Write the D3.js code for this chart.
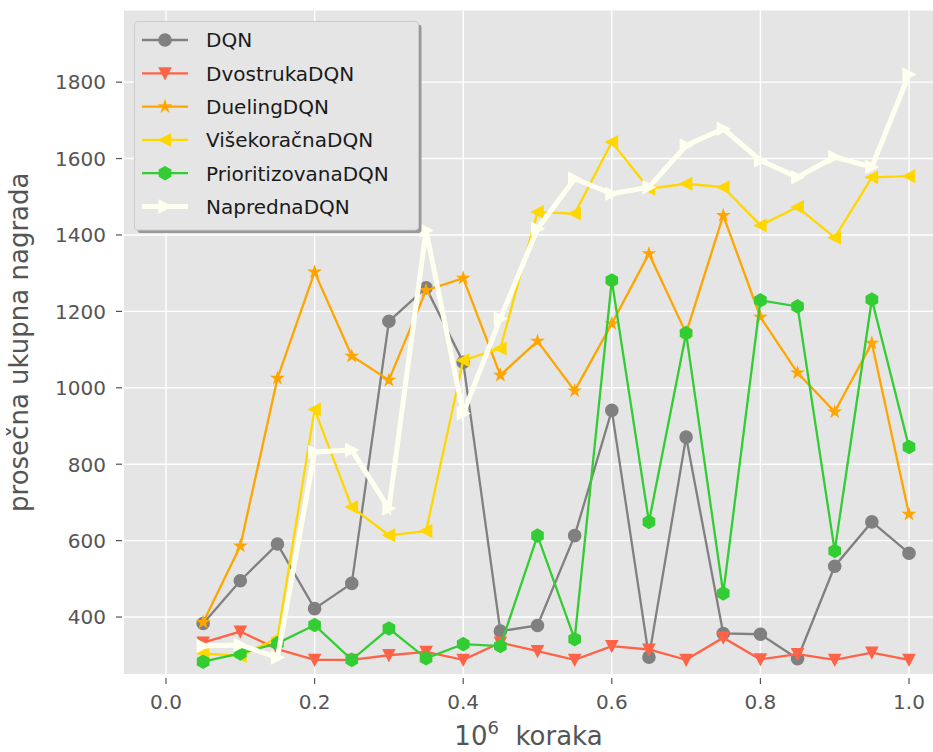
<!DOCTYPE html>
<html>
<head>
<meta charset="utf-8">
<script src="https://cdn.jsdelivr.net/npm/d3@7"></script>
<style>
  html, body { margin: 0; padding: 0; background: #fff; }
  svg { display: block; font-family: "DejaVu Sans", sans-serif; }
</style>
</head>
<body>
<svg id="chart" width="933" height="752"></svg>
<script>
const steps = [0.05,0.10,0.15,0.20,0.25,0.30,0.35,0.40,0.45,0.50,0.55,0.60,0.65,0.70,0.75,0.80,0.85,0.90,0.95,1.00];

const dqn          = [383,495,591,422,488,1174,1262,1067,363,378,613,941,295,871,357,355,291,533,649,567];
const dvostruka    = [333,362,316,288,288,300,309,288,333,311,288,324,315,288,346,289,303,288,307,288];
const dueling      = [386,586,1025,1303,1083,1020,1255,1287,1033,1122,992,1168,1351,1143,1451,1185,1039,937,1117,669];
const visekoracna  = [305,298,345,943,688,614,625,1072,1103,1460,1456,1643,1521,1534,1525,1425,1473,1393,1551,1554];
const prioritiz    = [283,305,331,379,288,370,292,329,324,613,342,1281,649,1143,462,1229,1213,573,1231,845];
const napredna     = [324,327,294,832,837,684,1412,933,1181,1416,1547,1508,1525,1634,1678,1595,1551,1604,1578,1820];

const seriesNames  = ["DQN","DvostrukaDQN","DuelingDQN","VišekoračnaDQN","PrioritizovanaDQN","NaprednaDQN"];
const seriesValues = [dqn, dvostruka, dueling, visekoracna, prioritiz, napredna];
const seriesColors = ["#808080","#ff6347","#ffa500","#ffd700","#32cd32","#fffff0"];
const seriesMarkers = ["circle","tridown","star","trileft","hexagon","triright"];
const seriesWidths = [2.3,2.3,2.3,2.3,2.3,5];

const xTicks = [0.0,0.2,0.4,0.6,0.8,1.0];
const yTicks = [400,600,800,1000,1200,1400,1600,1800];
const xLabelMain = "10";
const xLabelSup = "6";
const xLabelRest = "  koraka";
const yLabel = "prosečna ukupna nagrada";

const svg = d3.select("#chart");
const L = 124, R = 933, T = 10.5, B = 674;

const x = d3.scaleLinear().domain([-0.05653, 1.0323]).range([L, R]);
const y = d3.scaleLinear().domain([250.9, 1987.5]).range([B, T]);

svg.append("rect").attr("x", L).attr("y", T).attr("width", R - L).attr("height", B - T).attr("fill", "#e5e5e5");

// grid
const g = svg.append("g");
g.selectAll(".gx").data(xTicks).join("line")
  .attr("x1", d => x(d)).attr("x2", d => x(d)).attr("y1", T).attr("y2", B)
  .attr("stroke", "#fff").attr("stroke-width", 1.4);
g.selectAll(".gy").data(yTicks).join("line")
  .attr("y1", d => y(d)).attr("y2", d => y(d)).attr("x1", L).attr("x2", R)
  .attr("stroke", "#fff").attr("stroke-width", 1.4);

// axes ticks
const ax = svg.append("g").attr("fill", "#555").attr("font-size", 20);
ax.selectAll(".tx").data(xTicks).join("line")
  .attr("x1", d => x(d)).attr("x2", d => x(d)).attr("y1", 678).attr("y2", 684)
  .attr("stroke", "#555").attr("stroke-width", 1.2);
ax.selectAll(".lx").data(xTicks).join("text")
  .attr("x", d => x(d)).attr("y", 709).attr("text-anchor", "middle")
  .text(d => d.toFixed(1));
ax.selectAll(".ty").data(yTicks).join("line")
  .attr("x1", 116).attr("x2", 122).attr("y1", d => y(d)).attr("y2", d => y(d))
  .attr("stroke", "#555").attr("stroke-width", 1.2);
ax.selectAll(".ly").data(yTicks).join("text")
  .attr("x", 106).attr("y", d => y(d) + 7.3).attr("text-anchor", "end")
  .text(d => d);

// axis labels
const xl = svg.append("text").attr("x", (L + R) / 2).attr("y", 745)
  .attr("text-anchor", "middle").attr("font-size", 26).attr("fill", "#555")
  .attr("xml:space", "preserve");
xl.append("tspan").text(xLabelMain);
xl.append("tspan").attr("dy", -11).attr("font-size", 18).text(xLabelSup);
xl.append("tspan").attr("dy", 11).text(xLabelRest);

svg.append("text").attr("transform", `translate(28,${(T + B) / 2}) rotate(-90)`)
  .attr("text-anchor", "middle").attr("font-size", 26).attr("fill", "#555")
  .text(yLabel);

// marker paths
function markerPath(type, s) {
  switch (type) {
    case "circle": return d3.symbol(d3.symbolCircle, Math.PI * s * s)();
    case "star": return d3.symbol(d3.symbolStar, s * s / 0.8908130915292852)();
    case "tridown": return `M${-s},${-s * 0.9}L${s},${-s * 0.9}L0,${s * 1.05}Z`;
    case "trileft": return `M${s * 0.9},${-s}L${s * 0.9},${s}L${-s * 1.05},0Z`;
    case "triright": return `M${-s * 0.9},${-s}L${-s * 0.9},${s}L${s * 1.05},0Z`;
    case "hexagon": {
      const pts = d3.range(6).map(i => {
        const a = Math.PI / 2 + i * Math.PI / 3;
        return [s * Math.cos(a), s * Math.sin(a)];
      });
      return "M" + pts.map(p => p.join(",")).join("L") + "Z";
    }
  }
}
const markerSize = [6.8, 6.8, 7.8, 7, 7.3, 7.3];

const line = d3.line().x(d => x(d[0])).y(d => y(d[1]));
const plot = svg.append("g");
seriesValues.forEach((vals, i) => {
  const data = steps.map((s, j) => [s, vals[j]]);
  const sg = plot.append("g");
  sg.append("path").datum(data).attr("d", line).attr("fill", "none")
    .attr("stroke", seriesColors[i]).attr("stroke-width", seriesWidths[i])
    .attr("stroke-linejoin", "miter");
  sg.selectAll("path.m").data(data).join("path").attr("class", "m")
    .attr("transform", d => `translate(${x(d[0])},${y(d[1])})`)
    .attr("d", markerPath(seriesMarkers[i], markerSize[i]))
    .attr("fill", seriesColors[i]);
});

// legend
const lg = svg.append("g");
lg.append("rect").attr("x", 137.5).attr("y", 24.5).attr("width", 284).attr("height", 208.5)
  .attr("rx", 3).attr("fill", "#999");
lg.append("rect").attr("x", 134.5).attr("y", 21.5).attr("width", 284).attr("height", 208.5)
  .attr("rx", 3).attr("fill", "#e5e5e5").attr("stroke", "#cccccc").attr("stroke-width", 1);
seriesNames.forEach((name, i) => {
  const yy = 40 + i * 33.3;
  lg.append("line").attr("x1", 142).attr("x2", 188).attr("y1", yy).attr("y2", yy)
    .attr("stroke", seriesColors[i]).attr("stroke-width", seriesWidths[i]);
  lg.append("path").attr("transform", `translate(165,${yy})`)
    .attr("d", markerPath(seriesMarkers[i], markerSize[i])).attr("fill", seriesColors[i]);
  lg.append("text").attr("x", 206).attr("y", yy + 7.3).attr("font-size", 20)
    .attr("fill", "#1a1a1a").text(name);
});
</script>
</body>
</html>
